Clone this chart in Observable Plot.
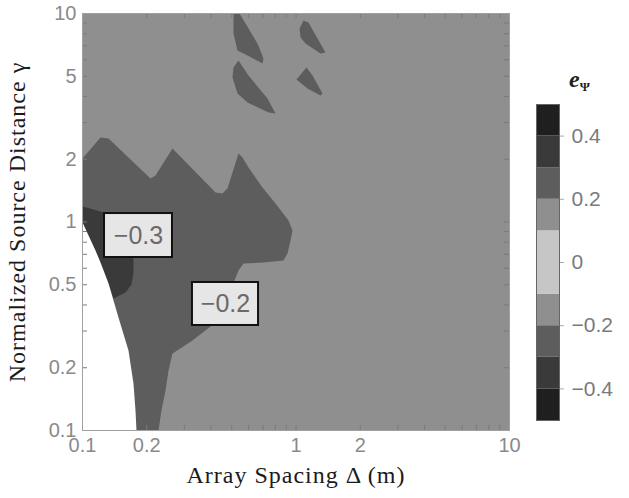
<!DOCTYPE html>
<html><head><meta charset="utf-8">
<script src="https://cdn.jsdelivr.net/npm/d3@7"></script>
<script src="https://cdn.jsdelivr.net/npm/@observablehq/plot@0.6"></script>
<style>
body{margin:0;background:#fff;}
#wrap{position:relative;width:629px;height:498px;display:flex;}
#etitle{position:absolute;left:569px;top:66px;font-family:"Liberation Serif";font-size:24px;font-style:italic;font-weight:bold;color:#222;white-space:nowrap}
#etitle sub{font-size:13px;font-style:normal;font-weight:bold;vertical-align:-4px}
g[font-family="Liberation Serif"] text{letter-spacing:1px}
</style></head><body>
<div id="wrap"><div id="etitle">e<sub>Ψ</sub></div></div>
<script>
// ---- axes / ticks ----
const xTicks = [0.1, 0.2, 0.5, 1, 2, 5, 10];
const yTicks = [0.1, 0.2, 0.5, 1, 2, 5, 10];
const minorTicks = [0.2, 0.3, 0.4, 0.5, 0.6, 0.7, 0.8, 0.9, 1, 2, 3, 4, 5, 6, 7, 8, 9];
const xTitle = "Array Spacing Δ (m)";
const yTitle = "Normalized Source Distance γ";

// ---- contour levels ----
const levelThresholds = [-0.4, -0.3, -0.2, -0.1, 0.1, 0.2, 0.3, 0.4];
const levelColors = ["#1f1f1f", "#3a3a3a", "#5d5d5d", "#8f8f8f", "#c6c6c6", "#8f8f8f", "#5d5d5d", "#3a3a3a", "#1f1f1f"];
const legendLow  = [-0.5, -0.4, -0.3, -0.2, -0.1, 0.0, 0.1, 0.2, 0.3, 0.4];
const legendHigh = [-0.4, -0.3, -0.2, -0.1, 0.0, 0.1, 0.2, 0.3, 0.4, 0.5];
const legendTicks = [-0.4, -0.2, 0, 0.2, 0.4];

// ---- regions (x = array spacing, y = normalized distance) ----
const domainBox = [{x1: 0.1, x2: 10, y1: 0.1, y2: 10, level: -0.15}];
const regionDark = [ // level -0.3 .. -0.2
  [0.1, 2.017], [0.1214, 2.543], [0.1324, 2.515], [0.2082, 1.617], [0.2198, 1.671],
  [0.2640, 2.252], [0.4198, 1.385], [0.4526, 1.370], [0.4777, 1.448], [0.5378, 2.130],
  [0.5616, 2.039], [0.5991, 1.825], [0.6967, 1.464], [0.8017, 1.227], [0.9224, 1.017],
  [0.9630, 0.910], [0.9424, 0.815], [0.9124, 0.706], [0.8738, 0.654], [0.7043, 0.639],
  [0.5677, 0.632], [0.5378, 0.585], [0.5265, 0.554], [0.4726, 0.420], [0.3977, 0.315],
  [0.3275, 0.270], [0.2640, 0.234], [0.2529, 0.194], [0.2448, 0.1555], [0.2344, 0.1247],
  [0.2270, 0.1], [0.1, 0.1]
];
const spotA = [[0.5096, 10], [0.5438, 10], [0.6601, 7.179], [0.7043, 6.084], [0.6967, 5.757], [0.5927, 6.289], [0.5321, 6.645], [0.5096, 8.018]];
const spotB = [[0.5378, 5.951], [0.5991, 5.043], [0.7355, 3.911], [0.8017, 3.314], [0.7435, 3.351], [0.5927, 3.742], [0.5321, 4.133], [0.5041, 4.932], [0.5096, 5.508]];
const spotC = [[1.084, 9.256], [1.144, 9.054], [1.261, 7.588], [1.375, 6.500], [1.302, 6.429], [1.108, 7.179], [1.050, 7.672], [1.039, 8.475]];
const spotD = [[1.120, 5.508], [1.195, 5.043], [1.331, 4.133], [1.302, 4.044], [1.132, 4.369], [1.005, 4.825]];
const regionDarkest = [ // level -0.4 .. -0.3
  [0.1, 1.187], [0.1268, 1.111], [0.1540, 0.962], [0.1696, 0.797], [0.1733, 0.654],
  [0.1733, 0.566], [0.1696, 0.501], [0.1590, 0.459], [0.1397, 0.430], [0.1324, 0.507],
  [0.1214, 0.639], [0.1150, 0.730], [0.1067, 0.8615], [0.1, 0.9945]
];
const regionNoData = [
  [0.1, 0.9945], [0.1067, 0.8615], [0.1150, 0.730], [0.1214, 0.639], [0.1324, 0.507],
  [0.1474, 0.3483], [0.1642, 0.2418], [0.1733, 0.168], [0.1771, 0.1247], [0.1790, 0.1], [0.1, 0.1]
];
const labelBoxes = [
  {label: "−0.3", x1: 0.1268, x2: 0.2639, y1: 0.6756, y2: 1.098},
  {label: "−0.2", x1: 0.3274, x2: 0.6676, y1: 0.3189, y2: 0.5127}
];

const colorScale = {type: "threshold", domain: levelThresholds, range: levelColors};
const fmt = d3.format("~g");
const poly = (pts, level) => Plot.line(pts, {x: d => d[0], y: d => d[1], fill: () => level, stroke: "none", curve: "linear"});

const W = 529, H = 498, ML = 82, MR = 20, MT = 13, MB = 68;
const FW = W - ML - MR, FH = H - MT - MB, TL = 5;
const tickStyle = {stroke: "#7a7a7a", strokeWidth: 1};

const main = Plot.plot({
  width: W, height: H,
  marginLeft: ML, marginRight: MR, marginTop: MT, marginBottom: MB,
  style: {fontFamily: "Liberation Sans", background: "white"},
  x: {type: "log", domain: [0.1, 10], label: null},
  y: {type: "log", domain: [0.1, 10], label: null},
  color: colorScale,
  marks: [
    Plot.rect(domainBox, {x1: "x1", x2: "x2", y1: "y1", y2: "y2", fill: "level"}),
    poly(regionDark, -0.25),
    poly(spotA, -0.25), poly(spotB, -0.25), poly(spotC, -0.25), poly(spotD, -0.25),
    poly(regionDarkest, -0.35),
    Plot.line(regionNoData, {x: d => d[0], y: d => d[1], fill: "white", stroke: "none"}),
    Plot.tickX(minorTicks, {x: d => d, insetTop: FH - TL, ...tickStyle}),
    Plot.tickX(minorTicks, {x: d => d, insetBottom: FH - TL, ...tickStyle}),
    Plot.tickY(minorTicks, {y: d => d, insetRight: FW - TL, ...tickStyle}),
    Plot.tickY(minorTicks, {y: d => d, insetLeft: FW - TL, ...tickStyle}),
    Plot.frame({stroke: "#a0a0a0"}),
    Plot.axisX(xTicks, {anchor: "bottom", tickSize: 0, tickPadding: 7, tickFormat: fmt, fontSize: 20, fill: "#8a8a8a", label: null}),
    Plot.axisY(yTicks, {anchor: "left", tickSize: 0, tickPadding: 6, tickFormat: fmt, fontSize: 20, fill: "#8a8a8a", label: null}),
    Plot.rect(labelBoxes, {x1: "x1", x2: "x2", y1: "y1", y2: "y2", fill: "#e6e6e6", stroke: "#111", strokeWidth: 2}),
    Plot.text(labelBoxes, {x: d => Math.sqrt(d.x1 * d.x2), y: d => Math.sqrt(d.y1 * d.y2), text: "label", fontSize: 25, fill: "#6a6a6a"}),
    Plot.text([xTitle], {text: d => d, frameAnchor: "bottom", dy: 45, lineAnchor: "middle", fontFamily: "Liberation Serif", fontSize: 24, fill: "#1a1a1a"}),
    Plot.text([yTitle], {text: d => d, frameAnchor: "left", dx: -65, rotate: -90, textAnchor: "middle", lineAnchor: "middle", fontFamily: "Liberation Serif", fontSize: 24, fill: "#1a1a1a"})
  ]
});

const legend = Plot.plot({
  width: 100, height: 498,
  marginLeft: 7, marginRight: 70, marginTop: 104, marginBottom: 78,
  style: {fontFamily: "Liberation Sans", background: "white"},
  y: {domain: [-0.5, 0.5], label: null},
  color: colorScale,
  marks: [
    Plot.rect(legendLow, {y1: d => d, y2: (d, i) => legendHigh[i], fill: (d, i) => (d + legendHigh[i]) / 2}),
    Plot.frame({stroke: "#666"}),
    Plot.axisY(legendTicks, {anchor: "right", tickSize: 4, tickPadding: 8, tickFormat: fmt, fontSize: 21, fill: "#7a7a7a", stroke: "#aaa", label: null})
  ]
});

const wrap = document.getElementById("wrap");
wrap.appendChild(main);
wrap.appendChild(legend);
</script>
</body></html>
